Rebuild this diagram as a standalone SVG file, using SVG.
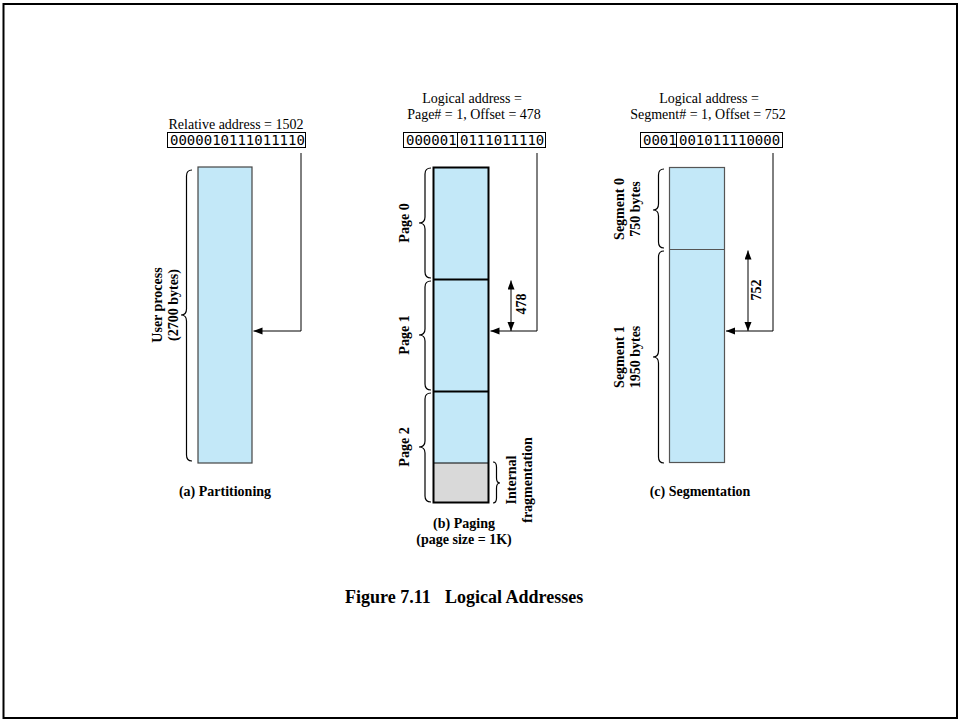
<svg xmlns="http://www.w3.org/2000/svg" width="959" height="721" viewBox="0 0 959 721">
<style>
.reg{font-family:"Liberation Serif","Times New Roman",serif;font-size:14px;fill:#000;text-anchor:middle}
.bold{font-family:"Liberation Serif","Times New Roman",serif;font-size:14px;font-weight:bold;fill:#000;text-anchor:middle}
.mono{font-family:"DejaVu Sans Mono","Liberation Mono",monospace;font-size:14px;fill:#000}
.box{fill:#fff;stroke:#000;stroke-width:1}
.blue{fill:#C3E8F8}
.brace{fill:none;stroke:#000;stroke-width:1.2}
.conn{fill:none;stroke:#000;stroke-width:1}
</style>
<defs>
<marker id="ah" markerUnits="userSpaceOnUse" markerWidth="10" markerHeight="8" refX="9" refY="3.5" orient="auto-start-reverse">
<path d="M0,0 L9,3.5 L0,7 z" fill="#000"/>
</marker>
</defs>
<rect x="0" y="0" width="959" height="721" fill="#fff"/>
<rect x="3.5" y="4" width="953.5" height="714" fill="none" stroke="#000" stroke-width="2"/>

<g id="partitioning">
<text class="reg" x="236" y="129">Relative address = 1502</text>
<rect class="box" x="167.5" y="132.5" width="138" height="15"/>
<text class="mono" x="170" y="144.5">0000010111011110</text>
<rect class="blue" x="198" y="167" width="54" height="296" stroke="#444" stroke-width="1.2"/>
<path class="brace" d="M192,170 Q186.5,170 186.5,176 L186.5,309 Q186.5,315 181,315 Q186.5,315 186.5,321 L186.5,455 Q186.5,461 192,461"/>
<text class="bold" transform="translate(161.5,305) rotate(-90)">User process</text>
<text class="bold" transform="translate(177.5,305) rotate(-90)">(2700 bytes)</text>
<text class="bold" x="225" y="496">(a) Partitioning</text>
</g>

<g id="paging">
<text class="reg" x="472" y="103">Logical address =</text>
<text class="reg" x="474" y="119">Page# = 1, Offset = 478</text>
<rect class="box" x="403.5" y="132.5" width="142" height="15"/>
<line x1="457.5" y1="132.5" x2="457.5" y2="147.5" stroke="#000" stroke-width="1"/>
<text class="mono" x="406" y="144.5">000001</text>
<text class="mono" x="460" y="144.5">0111011110</text>
<rect class="blue" x="433.5" y="167.5" width="55" height="335"/>
<rect x="433.5" y="463" width="55" height="39.5" fill="#D9D9D9"/>
<rect x="433.5" y="167.5" width="55" height="335" fill="none" stroke="#000" stroke-width="2"/>
<line x1="433.5" y1="279.5" x2="488.5" y2="279.5" stroke="#000" stroke-width="2"/>
<line x1="433.5" y1="391.5" x2="488.5" y2="391.5" stroke="#000" stroke-width="2"/>
<line x1="433.5" y1="463" x2="488.5" y2="463" stroke="#000" stroke-width="1"/>
<path class="brace" d="M431,168 Q425,168 425,174 L425,217 Q425,223 419,223 Q425,223 425,229 L425,272 Q425,278 431,278"/>
<path class="brace" d="M431,281 Q425,281 425,287 L425,329 Q425,335 419,335 Q425,335 425,341 L425,384 Q425,390 431,390"/>
<path class="brace" d="M431,393 Q425,393 425,399 L425,441 Q425,447 419,447 Q425,447 425,453 L425,496 Q425,502 431,502"/>
<path class="brace" d="M493,462 Q496.5,462 496.5,467 L496.5,478 Q496.5,483 500,483 Q496.5,483 496.5,488 L496.5,498 Q496.5,503 493,503"/>
<text class="bold" transform="translate(408.5,223) rotate(-90)">Page 0</text>
<text class="bold" transform="translate(408.5,335) rotate(-90)">Page 1</text>
<text class="bold" transform="translate(408.5,447) rotate(-90)">Page 2</text>
<text class="bold" transform="translate(516,480) rotate(-90)">Internal</text>
<text class="bold" transform="translate(531.5,480) rotate(-90)">fragmentation</text>
<text class="bold" transform="translate(526,304) rotate(-90)">478</text>
<text class="bold" x="464" y="528">(b) Paging</text>
<text class="bold" x="464" y="544">(page size = 1K)</text>
</g>

<g id="segmentation">
<text class="reg" x="709" y="103">Logical address =</text>
<text class="reg" x="708" y="119">Segment# = 1, Offset = 752</text>
<rect class="box" x="640.5" y="132.5" width="142" height="15"/>
<line x1="676.5" y1="132.5" x2="676.5" y2="147.5" stroke="#000" stroke-width="1"/>
<text class="mono" x="643" y="144.5">0001</text>
<text class="mono" x="679" y="144.5">001011110000</text>
<rect class="blue" x="669.5" y="167.5" width="55" height="295" stroke="#555" stroke-width="1.2"/>
<line x1="669.5" y1="249.5" x2="724.5" y2="249.5" stroke="#555" stroke-width="1.2"/>
<path class="brace" d="M664,169 Q658.5,169 658.5,175 L658.5,204 Q658.5,210 653,210 Q658.5,210 658.5,216 L658.5,242 Q658.5,248 664,248"/>
<path class="brace" d="M664,251 Q658.5,251 658.5,257 L658.5,351 Q658.5,357 653,357 Q658.5,357 658.5,363 L658.5,457 Q658.5,463 664,463"/>
<text class="bold" transform="translate(624,209) rotate(-90)">Segment 0</text>
<text class="bold" transform="translate(640,209) rotate(-90)">750 bytes</text>
<text class="bold" transform="translate(624,357) rotate(-90)">Segment 1</text>
<text class="bold" transform="translate(640,357) rotate(-90)">1950 bytes</text>
<text class="bold" transform="translate(761,290) rotate(-90)">752</text>
<text class="bold" x="700" y="496">(c) Segmentation</text>
</g>

<g id="connectors">
<path class="conn" d="M301,153 V331 H253.5" marker-end="url(#ah)"/>
<path class="conn" d="M537,153 V331 H490.5" marker-end="url(#ah)"/>
<path class="conn" d="M773,153 V331 H726" marker-end="url(#ah)"/>
<line class="conn" x1="511" y1="280.5" x2="511" y2="331" stroke-width="1.5" marker-start="url(#ah)" marker-end="url(#ah)"/>
<line class="conn" x1="748" y1="250.5" x2="748" y2="331" marker-start="url(#ah)" marker-end="url(#ah)"/>
</g>

<g id="title">
<text x="345" y="603" style="font-family:'Liberation Serif','Times New Roman',serif;font-size:18px;font-weight:bold">Figure 7.11</text>
<text x="445" y="603" style="font-family:'Liberation Serif','Times New Roman',serif;font-size:18px;font-weight:bold">Logical Addresses</text>
</g>
</svg>
